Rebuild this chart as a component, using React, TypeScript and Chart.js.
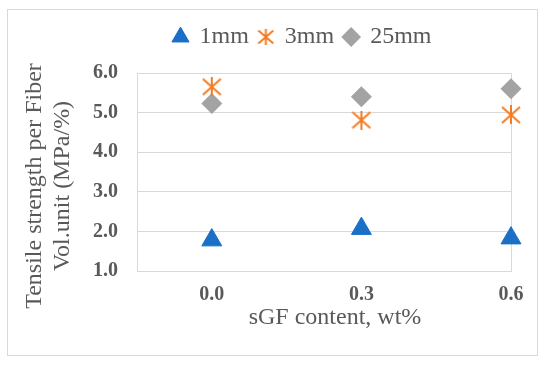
import React, { useEffect, useRef } from 'react';
import { Chart, registerables } from 'chart.js';

Chart.register(...registerables);

// ---- data ----
const categories = [0.0, 0.3, 0.6];
const xTickValues = [0.0, 0.3, 0.6];
const yTickValues = [1, 2, 3, 4, 5, 6];
const series1mm = [1.78, 2.07, 1.83];
const series3mm = [5.65, 4.81, 4.94];
const series25mm = [5.23, 5.4, 5.6];
const seriesNames = ['1mm', '3mm', '25mm'];
const xTitle = 'sGF content, wt%';
const yTitle = ['Tensile strength per Fiber', 'Vol.unit (MPa/%)'];

const BLUE = '#1a6fc7';
const ORANGE = '#f47b20';
const GRAY = '#a3a3a3';
const TEXT = '#595959';
const GRID = '#d9d9d9';
const SERIF = '"Liberation Serif", "Times New Roman", serif';

function makeAsterisk(w: number, h: number, lw: number, color: string) {
  const c = document.createElement('canvas');
  c.width = w;
  c.height = h;
  const ctx = c.getContext('2d')!;
  ctx.strokeStyle = color;
  ctx.lineWidth = lw;
  ctx.beginPath();
  ctx.moveTo(w / 2, 0);
  ctx.lineTo(w / 2, h);
  ctx.moveTo(1, 1.5);
  ctx.lineTo(w - 1, h - 1.5);
  ctx.moveTo(w - 1, 1.5);
  ctx.lineTo(1, h - 1.5);
  ctx.stroke();
  return c;
}

const toPoints = (vals: number[]) => vals.map((v, i) => ({ x: categories[i], y: v }));

export default function App() {
  const ref = useRef<HTMLCanvasElement>(null);

  useEffect(() => {
    if (!ref.current) return;
    const asterisk = makeAsterisk(20, 19, 2, ORANGE);
    const asteriskSmall = makeAsterisk(17, 16, 2, ORANGE);

    const refPlugin = {
      id: 'refLayout',
      afterLayout(chart: any) {
        const lg = chart.legend;
        if (lg) {
          lg.left += 47;
          lg.right += 47;
          lg.top -= 14;
          lg.bottom -= 14;
        }
      },
      beforeDraw(chart: any) {
        const ctx = chart.ctx;
        ctx.save();
        ctx.fillStyle = '#ffffff';
        ctx.fillRect(0, 0, chart.width, chart.height);
        ctx.strokeStyle = GRID;
        ctx.lineWidth = 1;
        ctx.strokeRect(7.5, 9.5, 530, 346);
        ctx.restore();
      },
      afterDraw(chart: any) {
        const ctx = chart.ctx;
        const ca = chart.chartArea;
        ctx.save();
        ctx.fillStyle = TEXT;
        ctx.font = '24px ' + SERIF;
        ctx.textAlign = 'center';
        ctx.textBaseline = 'middle';
        ctx.fillText(xTitle, (ca.left + ca.right) / 2 + 11, ca.bottom + 47);
        ctx.translate(34.5, (ca.top + ca.bottom) / 2 + 14);
        ctx.rotate(-Math.PI / 2);
        yTitle.forEach((line, i) => ctx.fillText(line, 0, i * 28.5));
        ctx.restore();
      },
    };

    const chart = new Chart(ref.current, {
      type: 'scatter',
      data: {
        datasets: [
          {
            label: seriesNames[0],
            data: toPoints(series1mm),
            pointStyle: 'triangle',
            pointRadius: 11.5,
            pointHoverRadius: 11.5,
            backgroundColor: BLUE,
            borderColor: BLUE,
            borderWidth: 1,
            clip: false,
          },
          {
            label: seriesNames[1],
            data: toPoints(series3mm),
            pointStyle: asterisk as any,
            pointRadius: 10,
            backgroundColor: ORANGE,
            borderColor: ORANGE,
            borderWidth: 2,
            clip: false,
          },
          {
            label: seriesNames[2],
            data: toPoints(series25mm),
            pointStyle: 'rectRot',
            pointRadius: 10.5,
            pointHoverRadius: 10.5,
            backgroundColor: GRAY,
            borderColor: GRAY,
            borderWidth: 0,
            clip: false,
          },
        ],
      },
      options: {
        animation: false,
        responsive: false,
        devicePixelRatio: 1,
        layout: { padding: { left: 0, right: 39, top: 29, bottom: 35 } },
        plugins: {
          legend: {
            position: 'top',
            labels: {
              usePointStyle: true,
              boxWidth: 14,
              boxHeight: 14,
              padding: 10,
              color: TEXT,
              font: { family: SERIF, size: 24 },
              generateLabels: (ch: any) => {
                const items = Chart.defaults.plugins.legend.labels.generateLabels(ch);
                return items.map((it: any, i: number) =>
                  i === 1 ? { ...it, pointStyle: asteriskSmall } : it
                );
              },
            },
          },
          tooltip: { enabled: false },
        },
        scales: {
          x: {
            type: 'linear',
            min: -0.15,
            max: 0.6,
            afterBuildTicks: (s: any) => {
              s.ticks = xTickValues.map((v) => ({ value: v }));
            },
            afterFit: (s: any) => {
              s.height = 60;
            },
            grid: {
              drawTicks: false,
              color: (c: any) => (c.tick && Math.abs(c.tick.value - 0.6) < 1e-9 ? GRID : 'rgba(0,0,0,0)'),
            },
            border: { display: true, color: GRID },
            ticks: {
              padding: 12,
              color: TEXT,
              font: { family: SERIF, size: 20, weight: 'bold' },
              callback: (v: any) => Number(v).toFixed(1),
            },
          },
          y: {
            min: 1,
            max: 6,
            afterBuildTicks: (s: any) => {
              s.ticks = yTickValues.map((v) => ({ value: v }));
            },
            afterFit: (s: any) => {
              s.width = 137;
            },
            grid: { drawTicks: false, color: GRID },
            border: { display: true, color: GRID },
            ticks: {
              padding: 19,
              color: TEXT,
              font: { family: SERIF, size: 20, weight: 'bold' },
              callback: (v: any) => Number(v).toFixed(1),
            },
          },
        },
      } as any,
      plugins: [refPlugin],
    });
    return () => chart.destroy();
  }, []);

  return (
    <div style={{ position: 'absolute', left: 0, top: 0, width: 550, height: 366 }}>
      <canvas ref={ref} width={550} height={366} style={{ display: 'block', width: 550, height: 366 }} />
    </div>
  );
}
